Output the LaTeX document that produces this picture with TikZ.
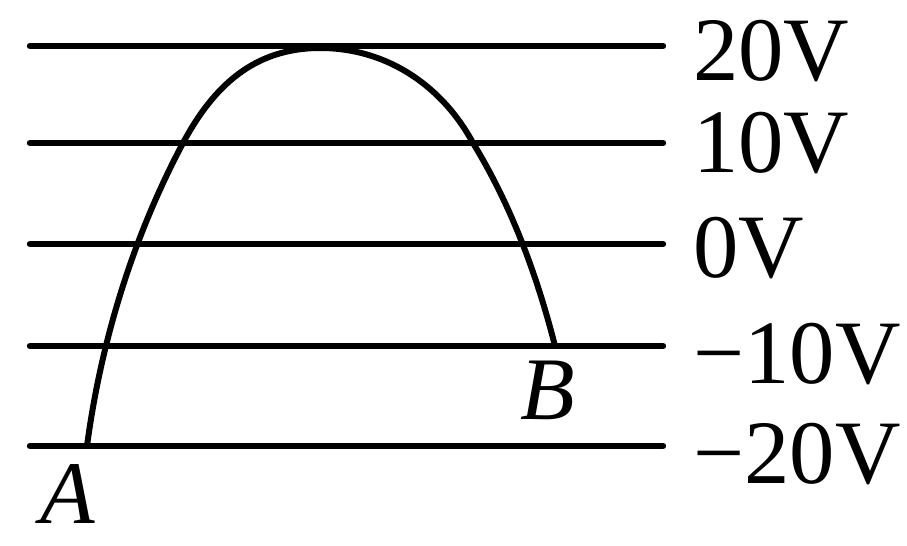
\documentclass[tikz,border=0pt]{standalone}
\usepackage{fontspec}
\setmainfont{Liberation Serif}
\begin{document}
\begin{tikzpicture}[x=0.75pt,y=-0.75pt,
  level/.style={line width=4.8pt,line cap=round},
  path/.style={line width=4.5pt},
  vlabel/.style={anchor=base west,inner sep=0pt,font=\fontsize{68}{68}\selectfont},
  ptlabel/.style={anchor=base west,inner sep=0pt,font=\fontsize{67}{67}\selectfont\itshape}]
\useasboundingbox (0,0) rectangle (907,546);
% equipotential lines
\foreach \n/\y in {a/46,b/143,c/244,d/346,e/446}{
  \coordinate (\n l) at (30,\y);
  \coordinate (\n r) at (663,\y);
}
\draw[level] (al) -- (ar);
\draw[level] (bl) -- (br);
\draw[level] (cl) -- (cr);
\draw[level] (dl) -- (dr);
\draw[level] (el) -- (er);
% labels
\node[vlabel] (l20) at (693,80) {20V};
\node[vlabel] (l10) at (693,172) {10V};
\node[vlabel] (l0) at (693,277) {0V};
\node[vlabel] (lm10) at (693,383) {−10V};
\node[vlabel] (lm20) at (693,483) {−20V};
% trajectory
\coordinate (A) at (87,446);
\coordinate (P) at (183,143);
\coordinate (T) at (320,48);
\coordinate (Q) at (473,143);
\coordinate (B) at (555,346);
\draw[path,line join=round]
  (A) .. controls (101,341) and (133,237) .. (P)
      .. controls (214,85) and (255,48) .. (T)
      .. controls (390,48) and (444,89) .. (Q)
      .. controls (511,205) and (537,275) .. (B);
\node[ptlabel] (Alab) at (40,523) {A};
\node[ptlabel] (Blab) at (520,419) {B};
\end{tikzpicture}
\end{document}
